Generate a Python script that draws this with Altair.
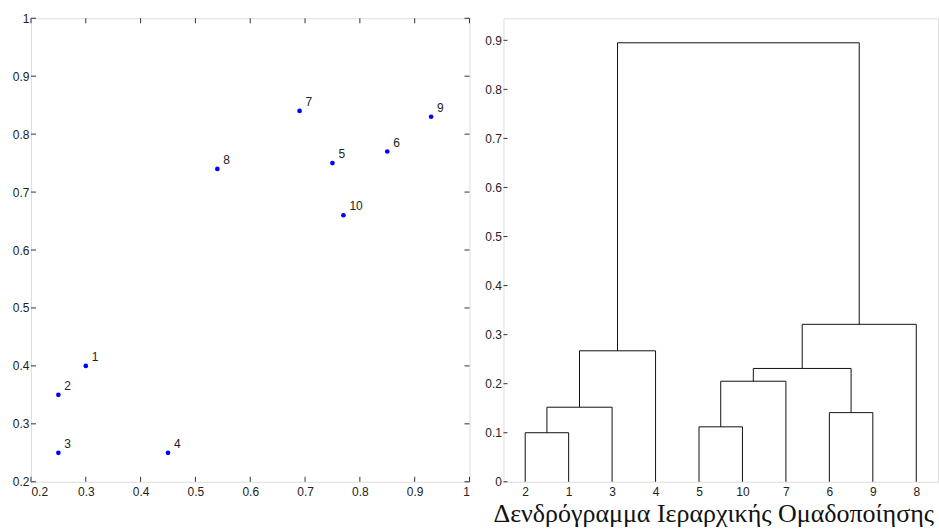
import altair as alt
import pandas as pd

# ---------- data ----------
pt_labels = ["1", "2", "3", "4", "5", "6", "7", "8", "9", "10"]
pt_x = [0.30, 0.25, 0.25, 0.45, 0.75, 0.85, 0.69, 0.54, 0.93, 0.77]
pt_y = [0.40, 0.35, 0.25, 0.25, 0.75, 0.77, 0.84, 0.74, 0.83, 0.66]
scatter_ticks = [0.2, 0.3, 0.4, 0.5, 0.6, 0.7, 0.8, 0.9, 1.0]

leaf_order = [2, 1, 3, 4, 5, 10, 7, 6, 9, 8]
# linkage: new clusters get ids 11, 12, ... in order
link_left = [2, 11, 12, 5, 14, 6, 15, 17, 13]
link_right = [1, 3, 4, 10, 7, 9, 16, 8, 18]
link_height = [0.100, 0.152, 0.267, 0.112, 0.205, 0.141, 0.231, 0.321, 0.895]
dendro_ticks = [0, 0.1, 0.2, 0.3, 0.4, 0.5, 0.6, 0.7, 0.8, 0.9]
title_text = "Δενδρόγραμμα Ιεραρχικής Ομαδοποίησης"

FONT = "Liberation Sans"
W1, H1 = 439, 464
W2, H2 = 435, 464
TICK = 5

# ---------- scatter panel ----------
pts = pd.DataFrame({"x": pt_x, "y": pt_y, "label": pt_labels})
xs = alt.Scale(domain=[0.2, 1.0], nice=False, zero=False)
ys = alt.Scale(domain=[0.2, 1.0], nice=False, zero=False)
axis_common = dict(ticks=False, grid=False, domain=False, labelFont=FONT,
                   labelFontSize=12, labelColor="#222", format=".1~f")

base = alt.Chart(pts)
points = base.mark_circle(size=22, color="#0000ff", opacity=1).encode(
    x=alt.X("x:Q", scale=xs, title=None,
            axis=alt.Axis(values=scatter_ticks, labelPadding=5, **axis_common)),
    y=alt.Y("y:Q", scale=ys, title=None,
            axis=alt.Axis(values=scatter_ticks, labelPadding=2, **axis_common)),
)
texts = base.mark_text(align="left", baseline="middle", dx=6, dy=-9,
                       font=FONT, fontSize=12, color="#222").encode(
    x=alt.X("x:Q", scale=xs), y=alt.Y("y:Q", scale=ys), text="label:N")

tdf = pd.DataFrame({"t": scatter_ticks})
tb = alt.Chart(tdf)
tick_bottom = tb.mark_rule(color="#333").encode(
    x=alt.X("t:Q", scale=xs), y=alt.value(H1), y2=alt.value(H1 - TICK))
tick_top = tb.mark_rule(color="#333").encode(
    x=alt.X("t:Q", scale=xs), y=alt.value(0), y2=alt.value(TICK))
tick_left = tb.mark_rule(color="#333").encode(
    y=alt.Y("t:Q", scale=ys), x=alt.value(0), x2=alt.value(TICK))
tick_right = tb.mark_rule(color="#333").encode(
    y=alt.Y("t:Q", scale=ys), x=alt.value(W1), x2=alt.value(W1 - TICK))

left = alt.layer(points, texts, tick_bottom, tick_top, tick_left, tick_right).properties(
    width=W1, height=H1)

# ---------- dendrogram panel ----------
xpos = {leaf: i + 1 for i, leaf in enumerate(leaf_order)}
hpos = {leaf: 0.0 for leaf in leaf_order}
segs = []
for k, (a, b, h) in enumerate(zip(link_left, link_right, link_height)):
    cid = 11 + k
    xa, xb = xpos[a], xpos[b]
    segs.append({"x": xa, "x2": xa, "y": hpos[a], "y2": h})
    segs.append({"x": xa, "x2": xb, "y": h, "y2": h})
    segs.append({"x": xb, "x2": xb, "y": hpos[b], "y2": h})
    xpos[cid] = (xa + xb) / 2
    hpos[cid] = h
sdf = pd.DataFrame(segs)

dxs = alt.Scale(domain=[0.5, 10.5], nice=False, zero=False)
dys = alt.Scale(domain=[0, H2 / 491.0], nice=False, zero=False)
label_arr = "[" + ",".join("'%s'" % v for v in leaf_order) + "]"

links = alt.Chart(sdf).mark_rule(color="#111", strokeWidth=1).encode(
    x=alt.X("x:Q", scale=dxs, title=None,
            axis=alt.Axis(values=list(range(1, 11)), labelPadding=5,
                          labelExpr=label_arr + "[datum.value - 1]",
                          ticks=False, grid=False, domain=False, labelFont=FONT,
                          labelFontSize=12, labelColor="#222")),
    x2="x2:Q",
    y=alt.Y("y:Q", scale=dys, title=None,
            axis=alt.Axis(values=dendro_ticks, labelPadding=2, format=".1~f",
                          ticks=False, grid=False, domain=False, labelFont=FONT,
                          labelFontSize=12, labelColor="#222")),
    y2="y2:Q",
)
ddf = pd.DataFrame({"t": dendro_ticks})
dtick_left = alt.Chart(ddf).mark_rule(color="#333").encode(
    y=alt.Y("t:Q", scale=dys), x=alt.value(0), x2=alt.value(4))

right = alt.layer(links, dtick_left).properties(
    width=W2, height=H2,
    title=alt.TitleParams(title_text, orient="bottom", anchor="middle",
                          font="Liberation Serif", fontSize=26, fontWeight="normal",
                          color="#111", offset=3, dx=-7))

chart = alt.hconcat(left, right, spacing=13).properties(
    padding={"left": 11, "top": 11, "right": 0, "bottom": 0}
).configure_view(stroke="#333", strokeWidth=1).configure(background="white")

chart.save("out.html", embed_options={"renderer": "svg", "actions": False})
